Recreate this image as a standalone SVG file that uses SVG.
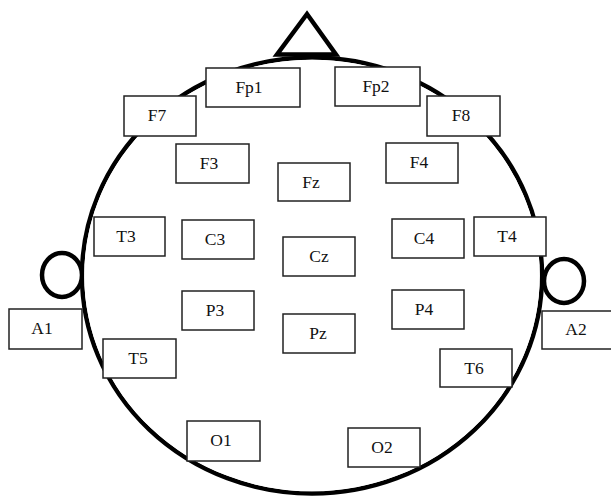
<svg xmlns="http://www.w3.org/2000/svg" width="611" height="496" viewBox="0 0 611 496">
<style>
.head{fill:none;stroke:#000;stroke-width:4.5}
.box rect{fill:#fff;stroke:#222;stroke-width:1.5}
.box text{font-family:"Liberation Serif","Times New Roman",serif;font-size:17.5px;fill:#111;text-anchor:middle}
</style>
<rect width="611" height="496" fill="#fff"/>
<g id="head">
<polygon class="head" points="307,14 277,54.5 336,54.5" fill="#fff"/>
<ellipse class="head" cx="312" cy="275.5" rx="230" ry="218"/>
<ellipse class="head" cx="62" cy="275" rx="20" ry="22" style="fill:#fff"/>
<ellipse class="head" cx="564" cy="281" rx="20" ry="22" style="fill:#fff"/>
<ellipse cx="312" cy="275.5" rx="227.8" ry="215.8" fill="#fff"/>
</g>
<g id="connectors"></g>
<g id="Fp1" class="box"><rect x="206" y="68" width="94" height="39"/><text x="249" y="93">Fp1</text></g>
<g id="Fp2" class="box"><rect x="335" y="67" width="85" height="39"/><text x="376" y="92">Fp2</text></g>
<g id="F7" class="box"><rect x="124" y="96" width="72" height="40"/><text x="157" y="121">F7</text></g>
<g id="F8" class="box"><rect x="427" y="96" width="73" height="40"/><text x="461" y="121">F8</text></g>
<g id="F3" class="box"><rect x="176" y="144" width="73" height="39"/><text x="209" y="169">F3</text></g>
<g id="F4" class="box"><rect x="386" y="143" width="72" height="40"/><text x="419" y="168">F4</text></g>
<g id="Fz" class="box"><rect x="278" y="163" width="72" height="38"/><text x="311" y="188">Fz</text></g>
<g id="T3" class="box"><rect x="94" y="217" width="71" height="39"/><text x="126" y="242">T3</text></g>
<g id="C3" class="box"><rect x="182" y="220" width="72" height="39"/><text x="215" y="245">C3</text></g>
<g id="Cz" class="box"><rect x="283" y="237" width="72" height="39"/><text x="319" y="262">Cz</text></g>
<g id="C4" class="box"><rect x="392" y="219" width="72" height="39"/><text x="424" y="244">C4</text></g>
<g id="T4" class="box"><rect x="474" y="217" width="72" height="39"/><text x="507" y="242">T4</text></g>
<g id="A1" class="box"><rect x="9" y="309" width="73" height="40"/><text x="42" y="334">A1</text></g>
<g id="A2" class="box"><rect x="542" y="311" width="72" height="38"/><text x="576" y="335">A2</text></g>
<g id="P3" class="box"><rect x="182" y="291" width="72" height="39"/><text x="215" y="316">P3</text></g>
<g id="Pz" class="box"><rect x="283" y="314" width="72" height="39"/><text x="318" y="339">Pz</text></g>
<g id="P4" class="box"><rect x="392" y="290" width="72" height="39"/><text x="424" y="315">P4</text></g>
<g id="T5" class="box"><rect x="103" y="339" width="73" height="39"/><text x="138" y="364">T5</text></g>
<g id="T6" class="box"><rect x="440" y="349" width="72" height="38"/><text x="474" y="374">T6</text></g>
<g id="O1" class="box"><rect x="187" y="421" width="73" height="40"/><text x="221" y="446">O1</text></g>
<g id="O2" class="box"><rect x="348" y="428" width="72" height="39"/><text x="382" y="453">O2</text></g>
</svg>
